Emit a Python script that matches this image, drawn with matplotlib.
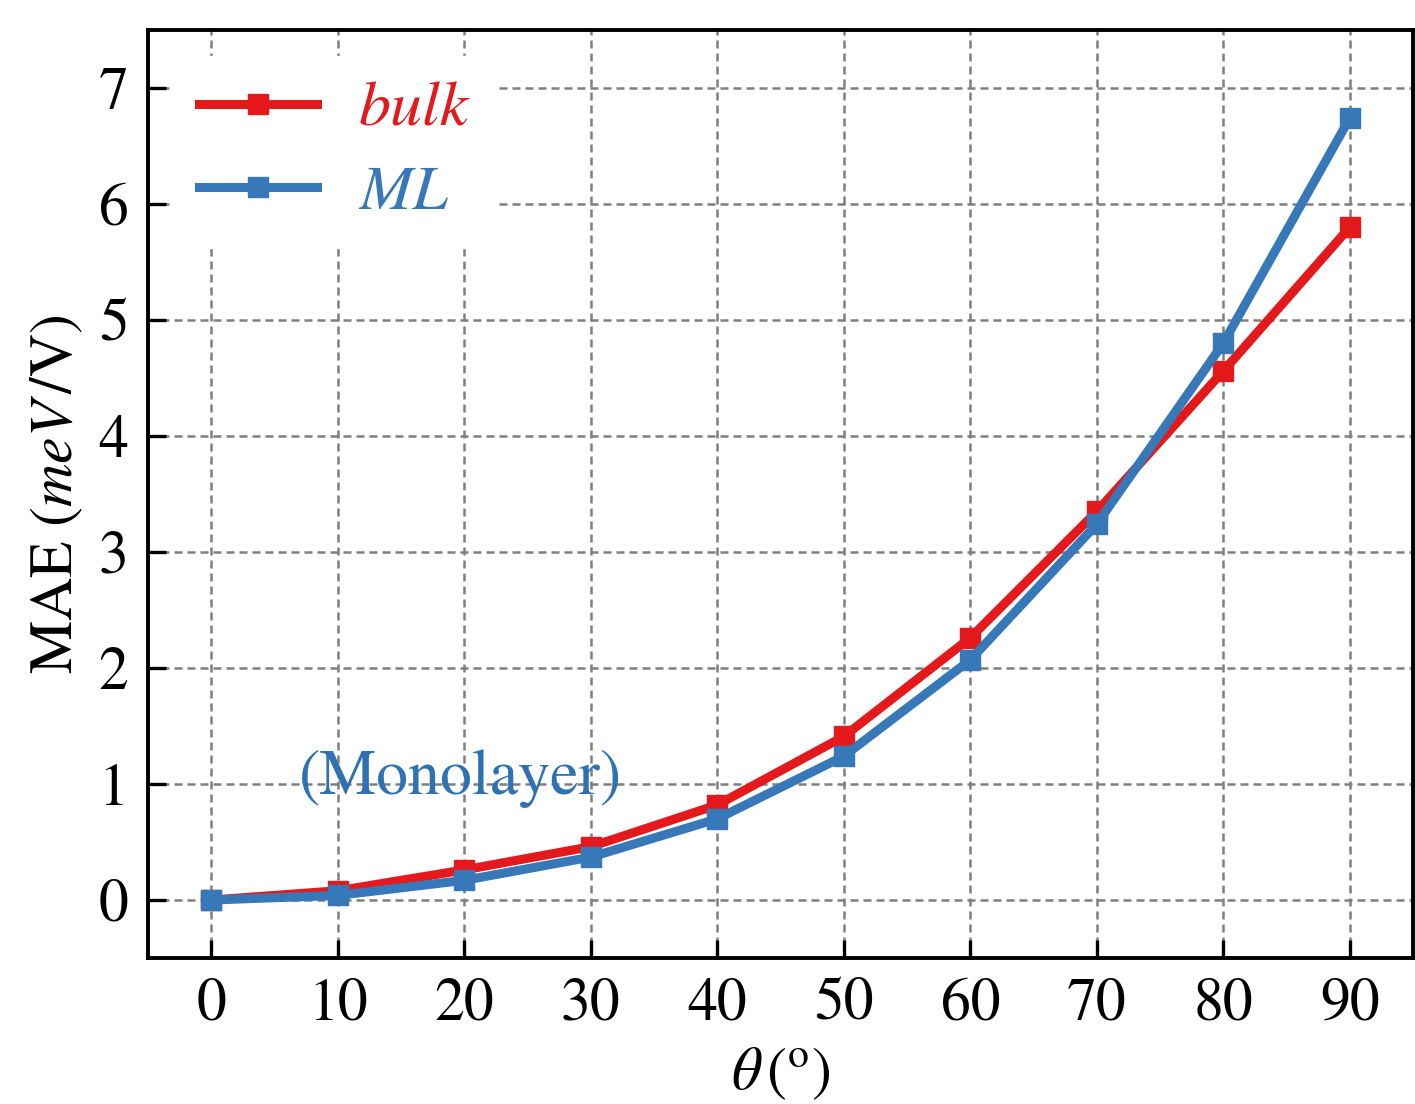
import matplotlib
matplotlib.use("Agg")
import matplotlib.pyplot as plt

# ---------------------------
# Data
# ---------------------------
theta = [0, 10, 20, 30, 40, 50, 60, 70, 80, 90]
mae_bulk = [0.0, 0.08, 0.26, 0.46, 0.82, 1.41, 2.26, 3.35, 4.56, 5.80]
mae_ml = [0.0, 0.04, 0.17, 0.37, 0.70, 1.24, 2.07, 3.24, 4.80, 6.74]

red = "#e3191c"
blue = "#3778b9"

plt.rcParams["font.family"] = ["STIXGeneral", "DejaVu Serif"]
plt.rcParams["mathtext.fontset"] = "stix"
plt.rcParams["font.size"] = 43

fig = plt.figure(figsize=(14.15, 11.04), dpi=100)
ax = fig.add_axes([0.1046, 0.1322, 0.894, 0.8406])

ax.plot(theta, mae_bulk, "-s", color=red, lw=6.5, ms=15, label="bulk", zorder=3)
ax.plot(theta, mae_ml, "-s", color=blue, lw=6.5, ms=15, label="ML", zorder=4)

ax.set_xlim(-5, 95)
ax.set_ylim(-0.5, 7.5)
ax.set_xticks(theta)
ax.set_yticks(range(0, 8))

ax.grid(True, ls=(0, (3.2, 2)), color="#7f7f7f", lw=1.8)
ax.tick_params(direction="in", length=13, width=2.4, pad=14)
for s in ax.spines.values():
    s.set_linewidth(2.8)

ax.set_xlabel(r"$\theta\,(^{\mathrm{o}})$", labelpad=10)
ax.set_ylabel(r"MAE ($meV\,$/V)", labelpad=10)

leg = ax.legend(loc="upper left", frameon=True, framealpha=1, edgecolor="white",
                handlelength=1.85, handletextpad=0.65, labelspacing=0.4,
                borderaxespad=0.4, fontsize=46, fancybox=False)
for txt, c in zip(leg.get_texts(), [red, blue]):
    txt.set_color(c)
    txt.set_fontstyle("italic")

ax.text(6.9, 1.05, "(Monolayer)", color="#2e72b4", fontsize=46, va="center", ha="left")

fig.savefig("out.png", dpi=100)
plt.close()
